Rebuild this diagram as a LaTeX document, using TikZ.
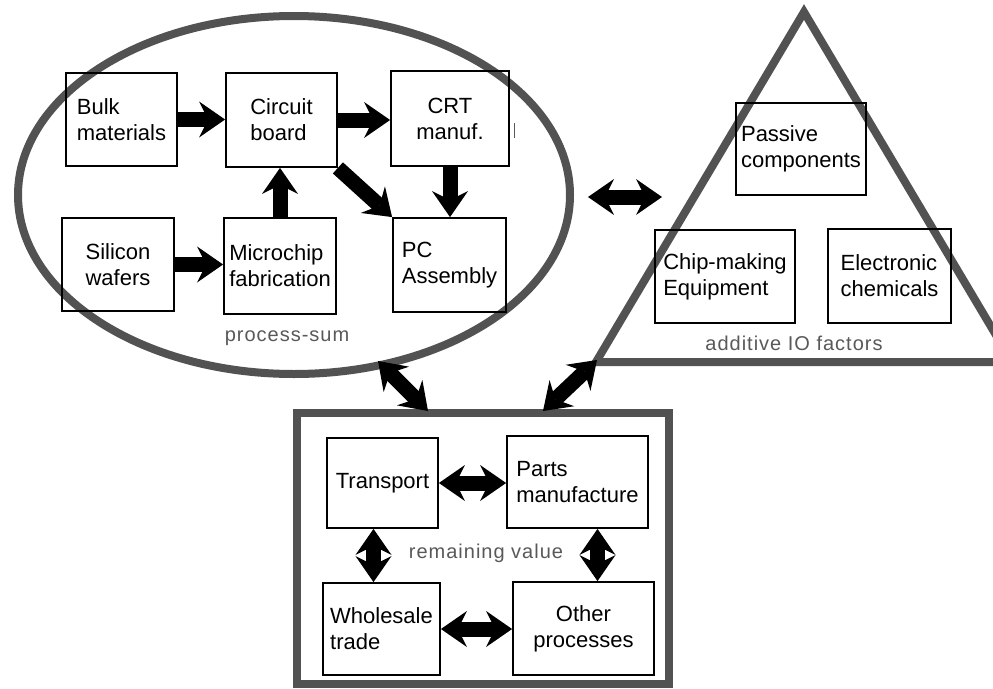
\documentclass[tikz,border=0pt]{standalone}
\usepackage{fontspec}
\setmainfont{Liberation Sans}
\newfontfamily\lblfont[LetterSpace=5]{Liberation Sans}
\usetikzlibrary{arrows.meta,shapes.geometric}
\definecolor{ringgray}{gray}{0.32}
\definecolor{lblgray}{gray}{0.35}
\begin{document}
\begin{tikzpicture}[x=1pt,y=-1pt,
  box/.style={draw, line width=1.8pt, inner sep=0pt, align=left, font=\fontsize{22}{26}\selectfont},
  ring/.style={draw=ringgray, line width=8pt},
  lbl/.style={text=lblgray, font=\lblfont\fontsize{20}{22}\selectfont, inner sep=0pt},
  fat/.style={line width=15pt, -{Stealth[length=26pt,width=36pt,inset=9pt,line width=0pt]}},
  fatboth/.style={line width=15pt, {Stealth[length=26pt,width=36pt,inset=9pt,line width=0pt]}-{Stealth[length=26pt,width=36pt,inset=9pt,line width=0pt]}},
]
\useasboundingbox (0,0) rectangle (993,688);
\fill[white] (0,0) rectangle (993,688);

% process-sum ellipse
\node[ring, ellipse, minimum width=552pt, minimum height=358pt, inner sep=0pt] (ell) at (294,195) {};
\node[box] (bulk) [minimum width=111pt, minimum height=93pt] at (121.5,119.5) {Bulk\\materials};
\node[box] (circ) [minimum width=111pt, minimum height=94pt] at (281.5,120) {Circuit\\board};
\node[box, align=center] (crt) [minimum width=118pt, minimum height=95pt] at (450,118.5) {CRT\\manuf.};
\node[box, align=center] (sil) [minimum width=112pt, minimum height=93pt] at (118,264.5) {Silicon\\wafers};
\node[box] (micro) [minimum width=112pt, minimum height=96pt] at (280,266) {Microchip\\fabrication};
\node[box] (pc) [minimum width=113pt, minimum height=94pt] at (449.5,265) {PC\\Assembly};
\node[lbl] (psum) at (287,338) {process-sum};
\draw[lblgray, line width=1pt] (514,123) -- (514,138);

\draw[fat] (bulk.east) -- (bulk.east -| circ.west);
\draw[fat] (circ.east) -- (circ.east -| crt.west);
\draw[fat] (circ.south east) -- (pc.north west);
\draw[fat] (crt.south) -- (crt.south |- pc.north);
\draw[fat] (sil.east) -- (sil.east -| micro.west);
\draw[fat] (micro.north) -- (micro.north |- circ.south);

% additive IO triangle
\coordinate (tA) at (804,12);
\coordinate (tB) at (596,362);
\coordinate (tC) at (1012,362);
\draw[ring, line join=miter] (tA) -- (tB) -- (tC) -- cycle;
\node[box] (pas) [minimum width=130pt, minimum height=92pt] at (801,149) {Passive\\components};
\node[box] (chip) [minimum width=140pt, minimum height=93pt] at (725,276.5) {Chip-making\\Equipment};
\node[box] (elec) [minimum width=123pt, minimum height=94pt] at (889.5,276) {Electronic\\chemicals};
\node[lbl] (aio) at (794,343) {additive IO factors};

% remaining value box
\node[draw=ringgray, line width=8pt, minimum width=372pt, minimum height=271pt, inner sep=0pt] (rv) at (482.5,548.5) {};
\node[box] (trans) [minimum width=111pt, minimum height=90pt] at (382.5,483) {Transport};
\node[box] (parts) [minimum width=141pt, minimum height=92pt] at (577.5,482) {Parts\\manufacture};
\node[box] (whole) [minimum width=117pt, minimum height=92pt] at (381.5,629) {Wholesale\\trade};
\node[box, align=center] (other) [minimum width=141pt, minimum height=93pt] at (583.5,628.5) {Other\\processes};
\node[lbl] (remv) at (486,553) {remaining value};

\draw[fatboth] (trans.east) -- (trans.east -| parts.west);
\draw[fatboth] ([xshift=-9pt]trans.south) -- ([xshift=-9pt]trans.south |- whole.north);
\draw[fatboth] ([xshift=20pt]parts.south) -- ([xshift=20pt]parts.south |- other.north);
\draw[fatboth] (whole.east) -- (whole.east -| other.west);

% links between the three parts
\coordinate (eA) at (588,197);
\coordinate (eB) at (662,197);
\coordinate (eC) at (378,361);
\coordinate (eD) at (428,411);
\coordinate (tE) at (597,360);
\coordinate (tF) at (543,411);
\draw[fatboth] (eA) -- (eB);
\draw[fatboth] (eC) -- (eD);
\draw[fatboth] (tE) -- (tF);
\end{tikzpicture}
\end{document}
